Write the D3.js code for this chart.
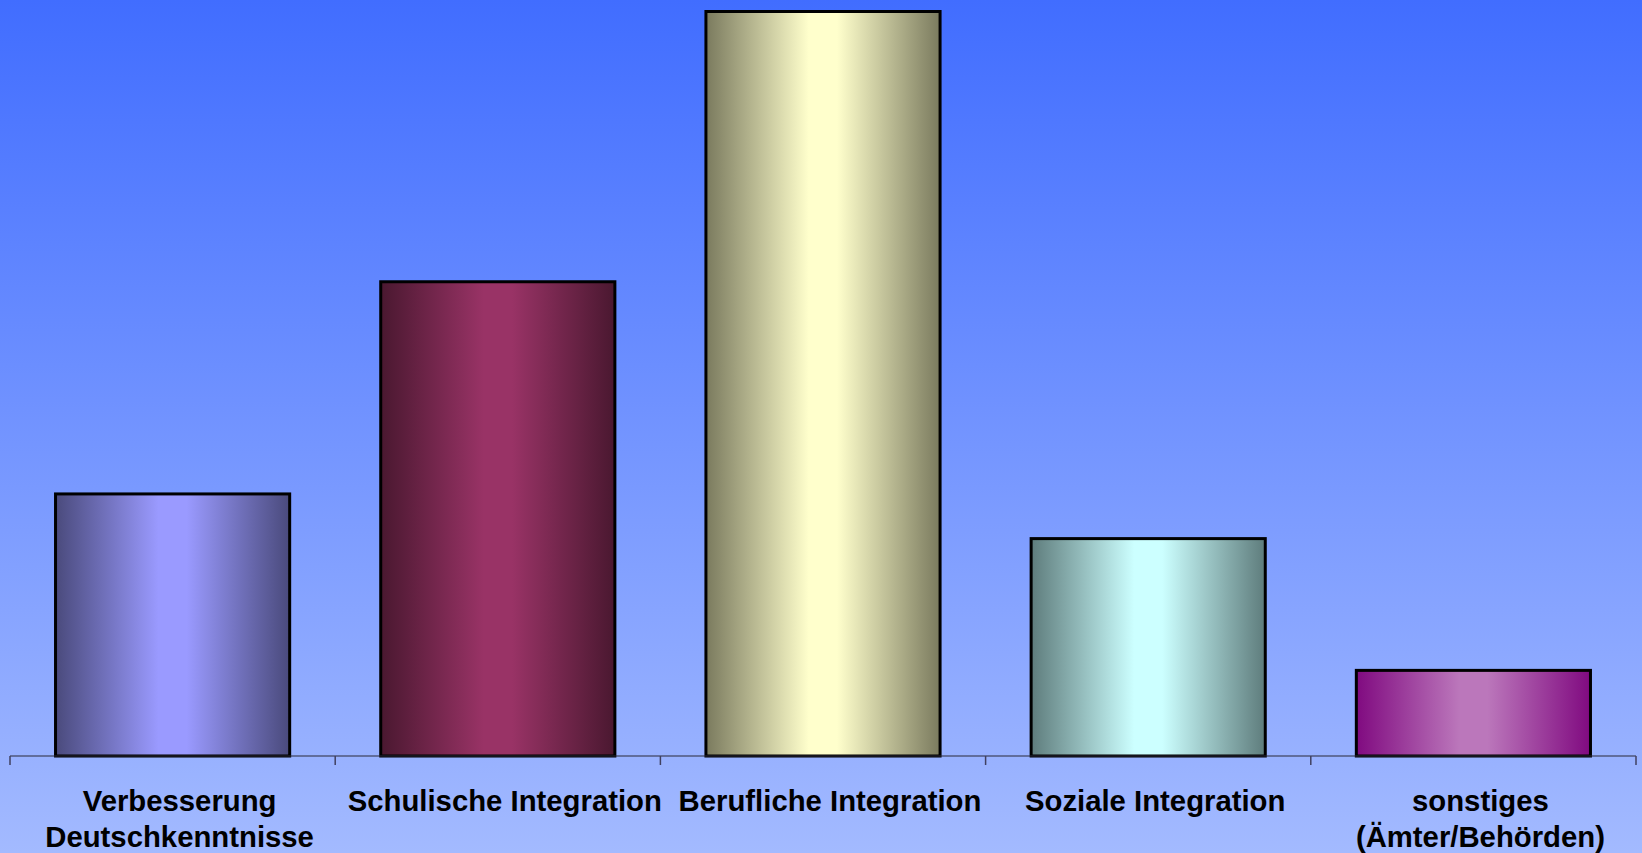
<!DOCTYPE html>
<html lang="de">
<head>
  <meta charset="UTF-8">
  <title>Integration</title>
  <style>
    body {
      margin: 0;
      padding: 0;
      overflow: hidden;
    }
    svg {
      display: block;
    }
    .label {
      font-family: 'Liberation Sans', Arial, sans-serif;
      font-weight: bold;
      font-size: 29.3px;
      fill: #000;
      text-anchor: middle;
    }
  </style>
</head>
<body>
  <svg width="1642" height="853"></svg>

  <script src="https://d3js.org/d3.v7.min.js"></script>
  <script>
    // categories, two-line labels
    const categories = [
      ["Verbesserung", "Deutschkenntnisse"],
      ["Schulische Integration"],
      ["Berufliche Integration"],
      ["Soziale Integration"],
      ["sonstiges", "(Ämter/Behörden)"]
    ];
    // relative values (largest = 100)
    const values = [35.2, 63.7, 100, 29.2, 11.5];
    // edge / centre colours of each bar
    const edgeColors = ["#4a4a7c", "#4a1830", "#7a7a5e", "#5e7c7c", "#800a80"];
    const centerColors = ["#9a9aff", "#993366", "#ffffcc", "#ccffff", "#bb77bb"];

    const svg = d3.select("svg");
    const width = +svg.attr("width");
    const height = +svg.attr("height");

    const defs = svg.append("defs");

    const bg = defs.append("linearGradient")
      .attr("id", "bg")
      .attr("x1", 0).attr("y1", 0).attr("x2", 0).attr("y2", 1);
    bg.append("stop").attr("offset", "0%").attr("stop-color", "#416dff");
    bg.append("stop").attr("offset", "100%").attr("stop-color", "#a3baff");

    svg.append("rect")
      .attr("width", width)
      .attr("height", height)
      .attr("fill", "url(#bg)");

    values.forEach((v, i) => {
      const g = defs.append("linearGradient")
        .attr("id", "bar" + i)
        .attr("x1", 0).attr("y1", 0).attr("x2", 1).attr("y2", 0);
      g.append("stop").attr("offset", "0%").attr("stop-color", edgeColors[i]);
      g.append("stop").attr("offset", "44%").attr("stop-color", centerColors[i]);
      g.append("stop").attr("offset", "56%").attr("stop-color", centerColors[i]);
      g.append("stop").attr("offset", "100%").attr("stop-color", edgeColors[i]);
    });

    const x = d3.scaleBand()
      .domain(d3.range(categories.length))
      .range([10, 1636])
      .paddingInner(0.28)
      .paddingOuter(0.14);

    const y = d3.scaleLinear()
      .domain([0, 100])
      .range([756, 11.5]);

    // bars
    svg.append("g")
      .selectAll("rect")
      .data(values)
      .enter()
      .append("rect")
      .attr("x", (d, i) => x(i))
      .attr("y", (d) => y(d))
      .attr("width", x.bandwidth())
      .attr("height", (d) => y(0) - y(d))
      .attr("fill", (d, i) => `url(#bar${i})`)
      .attr("stroke", "#000")
      .attr("stroke-width", 3);

    // axis line + ticks between categories
    const axis = svg.append("g");
    axis.append("line")
      .attr("x1", 10).attr("x2", 1636)
      .attr("y1", y(0)).attr("y2", y(0))
      .attr("stroke", "#2b2b3a")
      .attr("stroke-width", 1.2);

    const tickXs = d3.range(categories.length + 1).map((i) => 10 + i * x.step());
    axis.selectAll(".tick")
      .data(tickXs)
      .enter()
      .append("line")
      .attr("x1", (d) => d).attr("x2", (d) => d)
      .attr("y1", y(0)).attr("y2", y(0) + 9)
      .attr("stroke", "#404060")
      .attr("stroke-width", 1.5);

    // labels
    const labels = svg.append("g")
      .selectAll("text")
      .data(categories)
      .enter()
      .append("text")
      .attr("class", "label")
      .attr("x", (d, i) => x(i) + x.bandwidth() / 2 + 7)
      .attr("y", 811);

    labels.selectAll("tspan")
      .data((d) => d)
      .enter()
      .append("tspan")
      .attr("x", function () { return d3.select(this.parentNode).attr("x"); })
      .attr("dy", (d, j) => (j === 0 ? 0 : 36))
      .text((d) => d);
  </script>
</body>
</html>
